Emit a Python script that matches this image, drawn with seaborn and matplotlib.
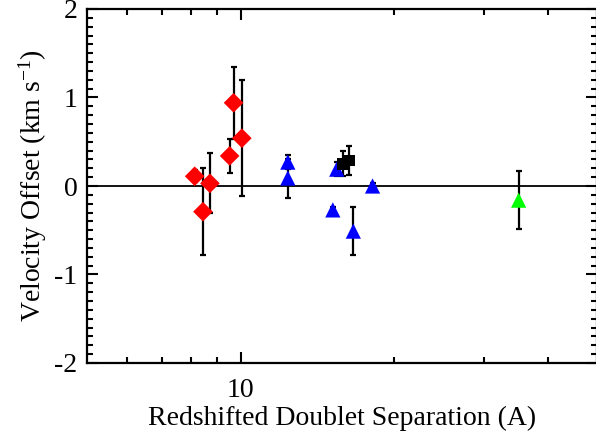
import numpy as np
import pandas as pd
import matplotlib
matplotlib.use("Agg")
import matplotlib.pyplot as plt
import seaborn as sns
from matplotlib.ticker import FixedLocator, NullFormatter, FixedFormatter, MultipleLocator

# ---- data ----
red_x = [8.13, 8.44, 8.71, 9.52, 9.69, 10.06]
red_y = [0.11, -0.29, 0.03, 0.34, 0.94, 0.54]
red_e = [0.07, 0.49, 0.34, 0.19, 0.41, 0.655]

blue_x = [12.38, 12.38, 15.17, 15.44, 16.64, 18.15]
blue_y = [0.27, 0.09, -0.27, 0.19, -0.51, 0.00]
blue_e = [0.075, 0.22, 0.03, 0.08, 0.27, 0.03]

black_x = [15.87, 16.33]
black_y = [0.25, 0.29]
black_e = [0.14, 0.165]

green_x = [35.1]
green_y = [-0.16]
green_e = [0.33]

x_major = [10]
x_minor = [6, 7, 8, 9, 20, 30, 40]
y_ticks = [-2, -1, 0, 1, 2]

groups = {"red": (red_x, red_y, red_e),
          "blue": (blue_x, blue_y, blue_e),
          "black": (black_x, black_y, black_e),
          "green": (green_x, green_y, green_e)}
rows = []
for g, (xs, ys, es) in groups.items():
    for x, y, e in zip(xs, ys, es):
        rows.append({"sep": x, "vel": y, "err": e, "group": g})
df = pd.DataFrame(rows)

sns.set_style("ticks")
plt.rcParams['font.family'] = ['Liberation Serif', 'DejaVu Serif']
plt.rcParams['mathtext.fontset'] = 'custom'
plt.rcParams['mathtext.rm'] = 'Liberation Serif'
plt.rcParams['mathtext.default'] = 'regular'
plt.rcParams['axes.unicode_minus'] = False
plt.rcParams['text.color'] = 'black'
plt.rcParams['axes.labelcolor'] = 'black'
plt.rcParams['xtick.color'] = 'black'
plt.rcParams['ytick.color'] = 'black'

fig = plt.figure(figsize=(5.96, 4.36), dpi=100)
ax = fig.add_axes([87 / 596, 73 / 436, 510 / 596, 354 / 436])

ax.axhline(0, color="black", lw=1.3, zorder=1)
ax.errorbar(df["sep"], df["vel"], yerr=df["err"], fmt="none", ecolor="black",
            elinewidth=1.6, capsize=2.5, capthick=1.6, zorder=2)

palette = {"red": "#ff0000", "blue": "#0000ff", "black": "#000000", "green": "#00ff00"}
markers = {"red": "D", "blue": "^", "black": "s", "green": "^"}
sizes = {"red": 100, "blue": 120, "black": 70, "green": 120}
sns.scatterplot(data=df, x="sep", y="vel", hue="group", style="group", size="group",
                palette=palette, markers=markers, sizes=sizes, linewidth=0,
                legend=False, ax=ax, zorder=3)

ax.set_xscale("log")
ax.set_xlim(5, 50)
ax.set_ylim(-2, 2)

ax.xaxis.set_major_locator(FixedLocator(x_major))
ax.xaxis.set_major_formatter(FixedFormatter([str(v) for v in x_major]))
ax.xaxis.set_minor_locator(FixedLocator(x_minor))
ax.xaxis.set_minor_formatter(NullFormatter())
ax.yaxis.set_major_locator(FixedLocator(y_ticks))
ax.yaxis.set_minor_locator(MultipleLocator(0.1))

ax.tick_params(which="both", direction="in", top=True, right=True, width=1.5,
               labelsize=20, colors="black", labelcolor="black")
ax.tick_params(axis="x", which="major", length=8, pad=11)
ax.tick_params(axis="y", which="major", length=8, pad=7)
ax.tick_params(which="minor", length=4)
for sp in ax.spines.values():
    sp.set_linewidth(1.6)
    sp.set_color("black")

ax.set_xlabel("Redshifted Doublet Separation (A)", fontsize=20, labelpad=2, color="black")
ax.set_ylabel(r"Velocity Offset (km s$^{-1}$)", fontsize=20, labelpad=4, color="black")

fig.savefig("out.png", dpi=100)
